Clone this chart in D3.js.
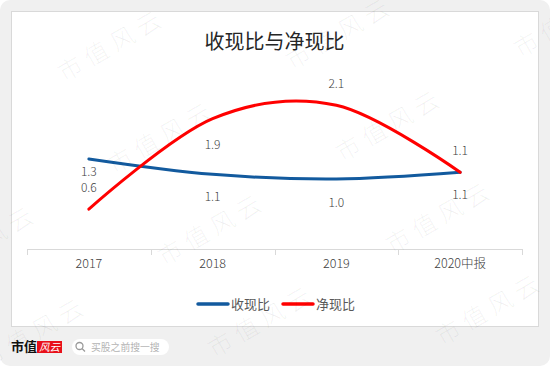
<!DOCTYPE html>
<html>
<head>
<meta charset="utf-8">
<script src="https://cdn.jsdelivr.net/npm/d3@7"></script>
<style>
  body { margin: 0; background: #fff; }
  text { font-family: "Noto Sans CJK SC", "Noto Sans", sans-serif; }
</style>
</head>
<body>
<svg id="chart" width="550" height="366"></svg>
<script>
// data
const categories = ['2017', '2018', '2019', '2020中报']
const cashToRevenue = [1.3, 1.07, 1.0, 1.1]     // 收现比
const cashToProfit = [0.55, 1.9, 2.1, 1.1]      // 净现比
const cashToRevenueLabels = ['1.3', '1.1', '1.0', '1.1']
const cashToProfitLabels = ['0.6', '1.9', '2.1', '1.1']
const seriesNames = ['收现比', '净现比']

const width = 550
const height = 366
const plot = { left: 27, right: 522, top: 78.5, bottom: 246, axisY: 249 }

const svg = d3.select('#chart')

// background card + white panel
svg.append('rect')
    .attr('width', width).attr('height', height)
    .attr('rx', 10)
    .attr('fill', '#f0f0f0')

svg.append('rect')
    .attr('x', 11.5).attr('y', 11.5)
    .attr('width', 527).attr('height', 315)
    .attr('fill', '#fff')
    .attr('stroke', '#d9d9d9')

svg.append('text')
    .attr('x', (plot.left + plot.right) / 2)
    .attr('y', 49)
    .attr('text-anchor', 'middle')
    .attr('font-size', 20)
    .attr('fill', '#262626')
    .text('收现比与净现比')

// scales
const x = d3.scaleBand().domain(categories).range([plot.left, plot.right])
const y = d3.scaleLinear().domain([0, 2.5]).range([plot.bottom, plot.top])
const cx = c => x(c) + x.bandwidth() / 2

// axis: line with ticks on band boundaries, labels centred
const axis = svg.append('g')
axis.append('line')
    .attr('x1', plot.left).attr('x2', plot.right)
    .attr('y1', plot.axisY + 0.5).attr('y2', plot.axisY + 0.5)
    .attr('stroke', '#d9d9d9')

const bounds = categories.map(c => x(c)).concat([plot.right])
axis.selectAll('.tick-line')
    .data(bounds)
    .enter()
    .append('line')
        .attr('x1', d => Math.round(d) + 0.5).attr('x2', d => Math.round(d) + 0.5)
        .attr('y1', plot.axisY).attr('y2', plot.axisY + 6)
        .attr('stroke', '#d9d9d9')

const xAxis = d3.axisBottom(x).tickSize(0).tickPadding(0)
const labelAxis = svg.append('g')
    .attr('transform', `translate(0, ${plot.axisY + 10})`)
    .call(xAxis)
labelAxis.select('.domain').remove()
labelAxis.selectAll('text')
    .attr('font-size', 12.5)
    .attr('font-family', '"Noto Sans CJK SC", sans-serif')
    .attr('font-weight', 300)
    .attr('fill', '#404040')

// lines
const line = d3.line()
    .x((d, i) => cx(categories[i]))
    .y(d => y(d))
    .curve(d3.curveCardinal.tension(0))

const series = [
    { name: seriesNames[0], values: cashToRevenue, labels: cashToRevenueLabels, color: '#125a9e', dy: [17, 27, 28, 27] },
    { name: seriesNames[1], values: cashToProfit, labels: cashToProfitLabels, color: '#ff0000', dy: [-17, 30, -17, -17] }
]

series.forEach(s => {
    svg.append('path')
        .attr('d', line(s.values))
        .attr('fill', 'none')
        .attr('stroke', s.color)
        .attr('stroke-width', 3)
        .attr('stroke-linecap', 'round')
})

series.forEach(s => {
    svg.append('g')
        .selectAll('text')
        .data(s.values)
        .enter()
        .append('text')
            .attr('x', (d, i) => cx(categories[i]))
            .attr('y', (d, i) => y(d) + s.dy[i])
            .attr('text-anchor', 'middle')
            .attr('font-size', 12)
            .attr('font-weight', 300)
            .attr('fill', '#404040')
            .text((d, i) => s.labels[i])
})

// legend
const legend = svg.append('g').attr('transform', 'translate(198, 304)')
series.forEach((s, i) => {
    const g = legend.append('g').attr('transform', `translate(${i * 85}, 0)`)
    g.append('line')
        .attr('x1', 0).attr('x2', 30)
        .attr('stroke', s.color)
        .attr('stroke-width', 3.5)
        .attr('stroke-linecap', 'round')
    g.append('text')
        .attr('x', 33).attr('y', 4.5)
        .attr('font-size', 13)
        .attr('fill', '#595959')
        .text(s.name)
})

// footer logo + search pill
svg.append('text')
    .attr('x', 11).attr('y', 351)
    .attr('font-size', 13)
    .attr('font-weight', 'bold')
    .attr('font-family', '"Noto Serif CJK SC", "Noto Sans CJK SC", serif')
    .attr('fill', '#111')
    .text('市值')
svg.append('rect')
    .attr('x', 37).attr('y', 341)
    .attr('width', 25).attr('height', 12)
    .attr('fill', '#e8101a')
svg.append('text')
    .attr('x', 49.5).attr('y', 351)
    .attr('text-anchor', 'middle')
    .attr('font-size', 10.5)
    .attr('font-style', 'italic')
    .attr('fill', '#fff')
    .text('风云')

svg.append('rect')
    .attr('x', 72).attr('y', 339)
    .attr('width', 97).attr('height', 16)
    .attr('rx', 8)
    .attr('fill', '#fff')
svg.append('circle')
    .attr('cx', 79.5).attr('cy', 346)
    .attr('r', 3.5)
    .attr('fill', 'none')
    .attr('stroke', '#9a9a9a')
    .attr('stroke-width', 1.3)
svg.append('line')
    .attr('x1', 82).attr('y1', 348.5)
    .attr('x2', 85).attr('y2', 351.5)
    .attr('stroke', '#9a9a9a')
    .attr('stroke-width', 1.3)
svg.append('text')
    .attr('x', 91).attr('y', 350.5)
    .attr('font-size', 9.8)
    .attr('fill', '#b4b4b4')
    .text('买股之前搜一搜')

// faint tiled watermark
const markRows = [0, 1, 2, 3]
const markCols = [-1, 0, 1, 2]
const marks = []
markRows.forEach(r => markCols.forEach(c => marks.push([112 + c * 228 + r * 50, 45 - c * 12 + r * 92])))
svg.append('g')
    .selectAll('text')
    .data(marks)
    .enter()
    .append('text')
        .attr('transform', d => `translate(${d[0]}, ${d[1]}) rotate(-30)`)
        .attr('text-anchor', 'middle')
        .attr('dy', '0.35em')
        .attr('font-size', 24)
        .attr('letter-spacing', 6)
        .attr('font-weight', 300)
        .attr('fill', '#000')
        .attr('fill-opacity', 0.06)
        .text('市值风云')
</script>
</body>
</html>
